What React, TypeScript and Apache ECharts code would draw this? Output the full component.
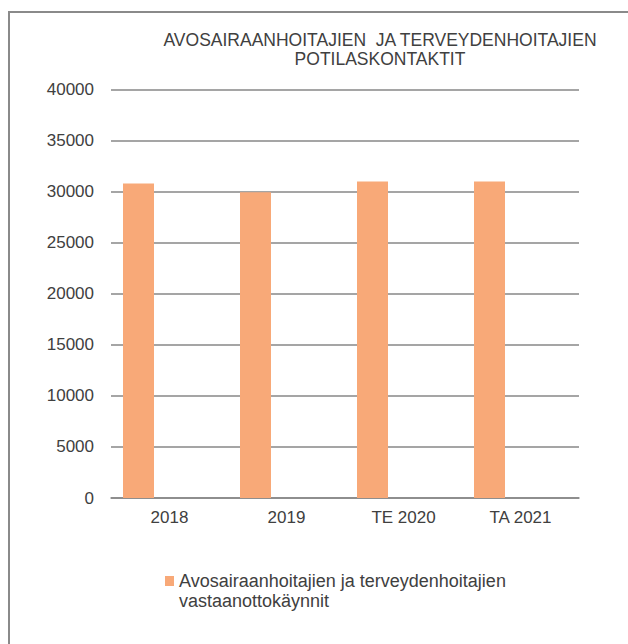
import React, { useEffect, useRef } from "react";
import * as echarts from "echarts";

const categories = ["2018", "2019", "TE 2020", "TA 2021"];
const visitValues = [30800, 29950, 31000, 31000];
const seriesName = "Avosairaanhoitajien ja terveydenhoitajien\nvastaanottokäynnit";
const titleText = "AVOSAIRAANHOITAJIEN  JA TERVEYDENHOITAJIEN\nPOTILASKONTAKTIT";
const yMin = 0;
const yMax = 40000;
const yInterval = 5000;

const FONT = "'Liberation Sans', Arial, sans-serif";
const TEXT = "#404040";
const GRID = "#878787";
const BAR = "#F8A978";

export default function App() {
  const ref = useRef<HTMLDivElement>(null);
  useEffect(() => {
    if (!ref.current) return;
    const chart = echarts.init(ref.current, null, { renderer: "svg" });
    const empty = categories.map(() => null);
    chart.setOption({
      animation: false,
      backgroundColor: "#ffffff",
      title: {
        text: titleText,
        left: 380,
        top: 30,
        padding: 0,
        textAlign: "center",
        textStyle: {
          fontFamily: FONT,
          fontSize: 17.5,
          fontWeight: "normal",
          color: TEXT,
          lineHeight: 19.5,
        },
      },
      graphic: [
        {
          type: "rect",
          shape: { x: 9, y: 12, width: 1000, height: 1000 },
          style: { fill: "none", stroke: "#8a8a8a", lineWidth: 2 },
          silent: true,
        },
      ],
      legend: {
        data: [seriesName],
        left: 165,
        top: 571,
        padding: 0,
        itemWidth: 9,
        itemHeight: 40,
        icon: "path://M0,0L0.01,0M0,5h9v10h-9ZM0,40L0.01,40",
        textStyle: {
          fontFamily: FONT,
          fontSize: 18,
          lineHeight: 20,
          color: TEXT,
        },
      },
      grid: { left: 111, right: 49, top: 89.5, bottom: 146, containLabel: false },
      xAxis: {
        type: "category",
        data: categories,
        axisLine: { show: true, lineStyle: { color: GRID, width: 1.5 } },
        axisTick: { show: false },
        axisLabel: { fontFamily: FONT, fontSize: 17, color: TEXT, margin: 11 },
      },
      yAxis: {
        type: "value",
        min: yMin,
        max: yMax,
        interval: yInterval,
        axisLine: { show: false },
        axisTick: { show: false },
        axisLabel: {
          fontFamily: FONT,
          fontSize: 17,
          color: TEXT,
          margin: 17,
          formatter: (v: number) => String(v),
        },
        splitLine: { show: true, lineStyle: { color: GRID, width: 1.5 } },
      },
      series: [
        {
          name: seriesName,
          type: "bar",
          data: visitValues,
          barWidth: 31,
          barGap: "0%",
          itemStyle: { color: BAR },
        },
        { name: "Sarja2", type: "bar", data: empty, barWidth: 31, barGap: "0%" },
        { name: "Sarja3", type: "bar", data: empty, barWidth: 31, barGap: "0%" },
      ],
    });
    return () => chart.dispose();
  }, []);
  return (
    <div
      ref={ref}
      style={{ position: "fixed", left: 0, top: 0, width: 628, height: 644, background: "#fff" }}
    />
  );
}
